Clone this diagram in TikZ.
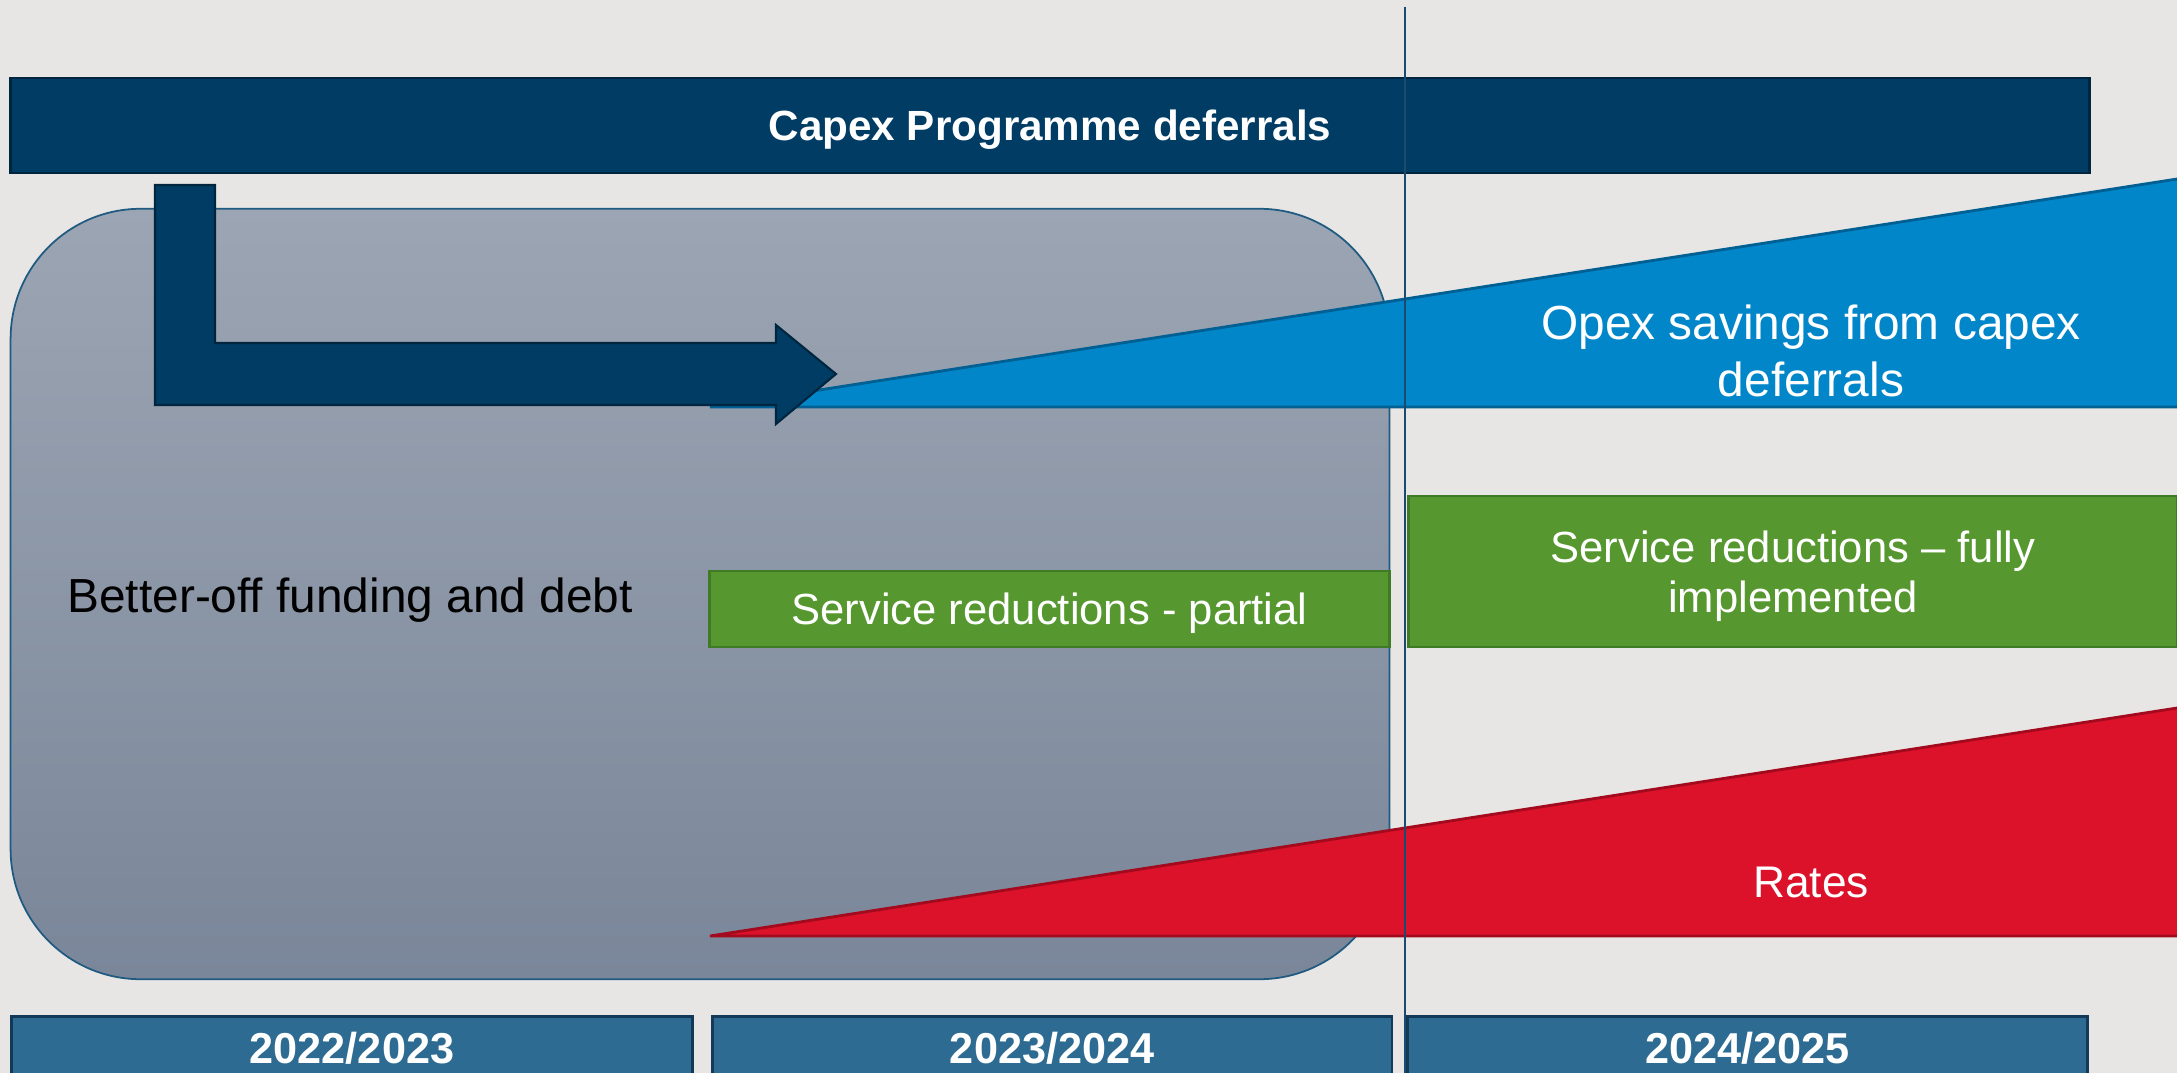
\documentclass[tikz,border=0pt]{standalone}
\usepackage{fontspec}
\setmainfont{Liberation Sans}
\usetikzlibrary{positioning}
\definecolor{BGgrey}{HTML}{E7E6E4}
\definecolor{Navy}{HTML}{003C63}
\definecolor{NavyEdge}{HTML}{00253F}
\definecolor{YearBlue}{HTML}{2D6B92}
\definecolor{YearEdge}{HTML}{123A58}
\definecolor{PanelTop}{HTML}{9CA5B3}
\definecolor{PanelBottom}{HTML}{7A8699}
\definecolor{PanelEdge}{HTML}{1F5A80}
\definecolor{OpexBlue}{HTML}{0086C9}
\definecolor{OpexEdge}{HTML}{005F93}
\definecolor{CutGreen}{HTML}{56982F}
\definecolor{CutEdge}{HTML}{3F7A25}
\definecolor{RatesRed}{HTML}{DC122B}
\definecolor{RatesEdge}{HTML}{A30A1D}
\definecolor{Divider}{HTML}{1A4A70}
\tikzstyle{banner} = [rectangle, minimum width=20.78cm, minimum height=0.95cm, text centered, text depth=0pt, draw=NavyEdge, line width=0.8pt, fill=Navy, text=white, font=\bfseries\fontsize{12}{14}\selectfont]
\tikzstyle{panel} = [rectangle, rounded corners=1.3cm, minimum width=13.78cm, minimum height=7.70cm, draw=PanelEdge, line width=0.5pt, top color=PanelTop, bottom color=PanelBottom]
\tikzstyle{cutbox} = [rectangle, text centered, text depth=0pt, draw=CutEdge, line width=0.8pt, fill=CutGreen, text=white, align=center, font=\fontsize{12.4}{14.2}\selectfont]
\tikzstyle{wedgetext} = [text=white, align=center, font=\fontsize{13.6}{16.2}\selectfont]
\tikzstyle{yearbox} = [rectangle, minimum width=6.81cm, minimum height=0.64cm, text centered, draw=YearEdge, line width=0.8pt, fill=YearBlue, text=white, font=\bfseries\fontsize{12.3}{14}\selectfont]
\tikzstyle{bentarrow} = [draw=NavyEdge, line width=0.6pt, fill=Navy]

\begin{document}
\begin{tikzpicture}[x=0.01cm, y=-0.01cm]

\useasboundingbox (0,0) rectangle (2177,1073);
\clip (0,0) rectangle (2177,1073);
\fill[BGgrey] (0,0) rectangle (2177,1073);

% funding panel
\node (panel) [panel] at (700,594) {};
\node (fundtext) [anchor=base west, font=\fontsize{13.6}{16}\selectfont] at (55,613) {Better-off funding and debt};

% opex wedge
\coordinate (opexL) at (710,407);
\coordinate (opexT) at (2190,177);
\coordinate (opexB) at (2190,407);
\filldraw[fill=OpexBlue, draw=OpexEdge, line width=0.8pt] (opexL) -- (opexT) -- (opexB) -- cycle;
\node (opex) [wedgetext] at (1811,351) {Opex savings from capex\\deferrals};

% capex banner and bent arrow
\node (capex) [banner] at (1050,125.5) {Capex Programme deferrals};
\draw[bentarrow] (155,185) -- (215,185) -- (215,343) -- (776,343) -- (776,325)
  -- (836,374) -- (776,424) -- (776,405) -- (155,405) -- cycle;

% service reductions
\node (partial) [cutbox, minimum width=6.79cm, minimum height=0.76cm] at (1049.5,609) {Service reductions - partial};
\node (fully) [cutbox, minimum width=7.68cm, minimum height=1.51cm] at (1793,571.5) {Service reductions – fully\\implemented};

% rates wedge
\coordinate (ratesL) at (710,936);
\coordinate (ratesT) at (2190,706);
\coordinate (ratesB) at (2190,936);
\filldraw[fill=RatesRed, draw=RatesEdge, line width=0.8pt] (ratesL) -- (ratesT) -- (ratesB) -- cycle;
\node (rates) [anchor=base, text=white, font=\fontsize{12.6}{15}\selectfont] at (1811,897) {Rates};

% divider
\coordinate (divtop) at (1405,7);
\coordinate (divbot) at (1405,1073);
\draw[Divider, line width=0.6pt] (divtop) -- (divbot);

% years
\node (y2223) [yearbox, anchor=north] at (352,1015) {2022/2023};
\node (y2324) [yearbox, minimum width=6.79cm, right=0.17cm of y2223] {2023/2024};
\node (y2425) [yearbox, minimum width=6.79cm, right=0.13cm of y2324] {2024/2025};

\end{tikzpicture}
\end{document}
